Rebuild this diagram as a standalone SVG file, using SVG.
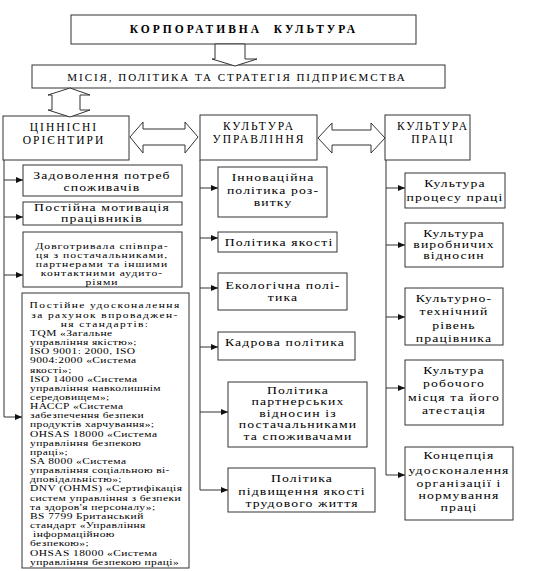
<svg xmlns="http://www.w3.org/2000/svg" width="533" height="571" viewBox="0 0 533 571">
<style>
.box{fill:#fff;stroke:#333;stroke-width:1}
.harrow{fill:#fff;stroke:#333;stroke-width:1}
.ln{stroke:#333;stroke-width:1;fill:none}
text{font-family:"Liberation Serif","Times New Roman",serif;fill:#000}
.hd{font-size:11.5px;letter-spacing:2px;text-anchor:middle}
.t{font-size:9.8px;letter-spacing:0.8px;text-anchor:middle}
.s{font-size:8px;letter-spacing:0.7px;text-anchor:middle}
.b{font-size:8.2px;letter-spacing:0.3px}
.c{text-anchor:middle;letter-spacing:1px}
</style>
<defs>
<marker id="ah" markerUnits="userSpaceOnUse" markerWidth="8" markerHeight="6" refX="7" refY="3" orient="auto">
<path d="M0,0 L7,3 L0,6 z" fill="#111"/>
</marker>
</defs>
<rect width="533" height="571" fill="#fff"/>

<g id="corp-culture">
<rect class="box" x="71" y="15" width="345" height="29"/>
<text x="244" y="33" style="font-size:11.5px;font-weight:bold;letter-spacing:3px;text-anchor:middle;white-space:pre">КОРПОРАТИВНА  КУЛЬТУРА</text>
</g>

<g id="mission">
<rect class="box" x="32" y="65" width="413" height="23"/>
<text x="237" y="81" style="font-size:11px;letter-spacing:1.95px;text-anchor:middle">МІСІЯ, ПОЛІТИКА ТА СТРАТЕГІЯ ПІДПРИЄМСТВА</text>
</g>

<g id="col1-head">
<rect class="box" x="3" y="116" width="126" height="44"/>
<text class="hd" x="64" y="131">ЦІННІСНІ</text>
<text class="hd" x="64" y="144">ОРІЄНТИРИ</text>
</g>

<g id="col2-head">
<rect class="box" x="200" y="115" width="117" height="45"/>
<text class="hd" x="259" y="130">КУЛЬТУРА</text>
<text class="hd" x="259" y="143">УПРАВЛІННЯ</text>
</g>

<g id="col3-head">
<rect class="box" x="385" y="115" width="85" height="45"/>
<text class="hd" x="433" y="130">КУЛЬТУРА</text>
<text class="hd" x="433" y="143">ПРАЦІ</text>
</g>

<g id="c1a">
<rect class="box" x="23" y="165" width="159" height="31"/>
<text class="t" transform="translate(102 179) scale(1.4 1)">Задоволення потреб</text>
<text class="t" transform="translate(102 191) scale(1.4 1)">споживачів</text>
</g>
<g id="c1b">
<rect class="box" x="23" y="202" width="159" height="23"/>
<text class="t" transform="translate(102 211) scale(1.4 1)">Постійна мотивація</text>
<text class="t" transform="translate(102 222) scale(1.4 1)">працівників</text>
</g>
<g id="c1c">
<rect class="box" x="23" y="232" width="159" height="55"/>
<text class="s" transform="translate(102 249) scale(1.45 1)">Довготривала співпра-</text>
<text class="s" transform="translate(102 258) scale(1.45 1)">ця з постачальниками,</text>
<text class="s" transform="translate(102 267) scale(1.45 1)">партнерами та іншими</text>
<text class="s" transform="translate(102 276) scale(1.45 1)">контактними аудито-</text>
<text class="s" transform="translate(102 284.5) scale(1.45 1)">ріями</text>
</g>
<g id="c1d">
<rect class="box" x="22" y="293" width="167" height="275"/>
<g transform="translate(30 0) scale(1.4 1)">
<text class="b c" x="53.6" y="308.5">Постійне удосконалення</text>
<text class="b c" x="53.6" y="317.7">за рахунок впроваджен-</text>
<text class="b c" x="53.6" y="326.8">ня стандартів:</text>
<text class="b" x="0" y="336">TQM «Загальне</text>
<text class="b" x="0" y="345.1">управління якістю»;</text>
<text class="b" x="0" y="354.3">ISO 9001: 2000, ISO</text>
<text class="b" x="0" y="363.4">9004:2000 «Система</text>
<text class="b" x="0" y="372.6">якості»;</text>
<text class="b" x="0" y="381.7">ISO 14000 «Система</text>
<text class="b" x="0" y="390.9">управління навколишнім</text>
<text class="b" x="0" y="400">середовищем»;</text>
<text class="b" x="0" y="409.2">НАССР «Система</text>
<text class="b" x="0" y="418.3">забезпечення безпеки</text>
<text class="b" x="0" y="427.5">продуктів харчування»;</text>
<text class="b" x="0" y="436.6">OHSAS 18000 «Система</text>
<text class="b" x="0" y="445.8">управління безпекою</text>
<text class="b" x="0" y="454.9">праці»;</text>
<text class="b" x="0" y="464.1">SA 8000 «Система</text>
<text class="b" x="0" y="473.2">управління соціальною ві-</text>
<text class="b" x="0" y="482.4">дповідальністю»;</text>
<text class="b" x="0" y="491.5">DNV (OHMS) «Сертифікація</text>
<text class="b" x="0" y="500.7">систем управління з безпеки</text>
<text class="b" x="0" y="509.8">та здоров'я персоналу»;</text>
<text class="b" x="0" y="519">BS 7799 Британський</text>
<text class="b" x="0" y="528.1">стандарт «Управління</text>
<text class="b" x="2.2" y="537.3">інформаційною</text>
<text class="b" x="0" y="546.4">безпекою»;</text>
<text class="b" x="0" y="555.6">OHSAS 18000 «Система</text>
<text class="b" x="0" y="564.7">управління безпекою праці»</text>
</g>
</g>

<g id="c2a">
<rect class="box" x="218" y="167" width="109" height="50"/>
<text class="t" transform="translate(273 181) scale(1.4 1)">Інноваційна</text>
<text class="t" transform="translate(273 194) scale(1.4 1)">політика роз-</text>
<text class="t" transform="translate(273 206) scale(1.4 1)">витку</text>
</g>
<g id="c2b">
<rect class="box" x="218" y="232" width="119" height="20"/>
<text class="t" transform="translate(279 246) scale(1.4 1)">Політика якості</text>
</g>
<g id="c2c">
<rect class="box" x="218" y="273" width="129" height="37"/>
<text class="t" transform="translate(283 289) scale(1.4 1)">Екологічна полі-</text>
<text class="t" transform="translate(283 301) scale(1.4 1)">тика</text>
</g>
<g id="c2d">
<rect class="box" x="218" y="332" width="137" height="28"/>
<text class="t" transform="translate(285 346) scale(1.4 1)">Кадрова політика</text>
</g>
<g id="c2e">
<rect class="box" x="228" y="382" width="139" height="65"/>
<text class="t" transform="translate(298 394) scale(1.4 1)">Політика</text>
<text class="t" transform="translate(298 405.4) scale(1.4 1)">партнерських</text>
<text class="t" transform="translate(298 416.8) scale(1.4 1)">відносин із</text>
<text class="t" transform="translate(298 428.2) scale(1.4 1)">постачальниками</text>
<text class="t" transform="translate(298 439.6) scale(1.4 1)">та споживачами</text>
</g>
<g id="c2f">
<rect class="box" x="228" y="468" width="147" height="44"/>
<text class="t" transform="translate(302 482) scale(1.4 1)">Політика</text>
<text class="t" transform="translate(302 495) scale(1.4 1)">підвищення якості</text>
<text class="t" transform="translate(302 507) scale(1.4 1)">трудового життя</text>
</g>

<g id="c3a">
<rect class="box" x="405" y="173" width="100" height="35"/>
<text class="t" transform="translate(455 187) scale(1.4 1)">Культура</text>
<text class="t" transform="translate(455 201) scale(1.4 1)">процесу праці</text>
</g>
<g id="c3b">
<rect class="box" x="405" y="223" width="98" height="44"/>
<text class="t" transform="translate(454 237) scale(1.4 1)">Культура</text>
<text class="t" transform="translate(454 248) scale(1.4 1)">виробничих</text>
<text class="t" transform="translate(454 259) scale(1.4 1)">відносин</text>
</g>
<g id="c3c">
<rect class="box" x="405" y="288" width="98" height="57"/>
<text class="t" transform="translate(454 302) scale(1.4 1)">Культурно-</text>
<text class="t" transform="translate(454 315) scale(1.4 1)">технічний</text>
<text class="t" transform="translate(454 329) scale(1.4 1)">рівень</text>
<text class="t" transform="translate(454 342) scale(1.4 1)">працівника</text>
</g>
<g id="c3d">
<rect class="box" x="405" y="360" width="98" height="65"/>
<text class="t" transform="translate(454 374) scale(1.4 1)">Культура</text>
<text class="t" transform="translate(454 387) scale(1.4 1)">робочого</text>
<text class="t" transform="translate(454 401) scale(1.4 1)">місця та його</text>
<text class="t" transform="translate(454 414) scale(1.4 1)">атестація</text>
</g>
<g id="c3e">
<rect class="box" x="405" y="447" width="108" height="73"/>
<text class="t" transform="translate(459 459) scale(1.4 1)">Концепція</text>
<text class="t" transform="translate(459 474) scale(1.4 1)">удосконалення</text>
<text class="t" transform="translate(459 487) scale(1.4 1)">організації і</text>
<text class="t" transform="translate(459 499) scale(1.4 1)">нормування</text>
<text class="t" transform="translate(459 511) scale(1.4 1)">праці</text>
</g>

<g id="connectors">
<polygon class="harrow" points="215,44 215,59 212,59 235,66 257,59 245,59 245,44"/>
<polygon class="harrow" points="70,88 90,95 80,95 80,110 90,110 70,117 48,110 52,110 52,95 48,95"/>
<polygon class="harrow" points="130,137 143,122 143,129 185,129 185,122 198,137 185,153 185,145 143,145 143,153"/>
<polygon class="harrow" points="318,138 332,123 332,130 371,130 371,123 385,138 371,153 371,145 332,145 332,153"/>

<path class="ln" d="M4,160 V417"/>
<path class="ln" d="M4,180 H23" marker-end="url(#ah)"/>
<path class="ln" d="M4,217 H23" marker-end="url(#ah)"/>
<path class="ln" d="M4,275 H23" marker-end="url(#ah)"/>
<path class="ln" d="M4,417 H22" marker-end="url(#ah)"/>

<path class="ln" d="M200,160 V490"/>
<path class="ln" d="M200,188 H218" marker-end="url(#ah)"/>
<path class="ln" d="M200,238 H218" marker-end="url(#ah)"/>
<path class="ln" d="M200,288 H218" marker-end="url(#ah)"/>
<path class="ln" d="M200,347 H218" marker-end="url(#ah)"/>
<path class="ln" d="M200,412 H228" marker-end="url(#ah)"/>
<path class="ln" d="M200,490 H228" marker-end="url(#ah)"/>

<path class="ln" d="M386,160 V475"/>
<path class="ln" d="M386,188 H405" marker-end="url(#ah)"/>
<path class="ln" d="M386,245 H405" marker-end="url(#ah)"/>
<path class="ln" d="M386,317 H405" marker-end="url(#ah)"/>
<path class="ln" d="M386,388 H405" marker-end="url(#ah)"/>
<path class="ln" d="M386,475 H405" marker-end="url(#ah)"/>
</g>
</svg>
